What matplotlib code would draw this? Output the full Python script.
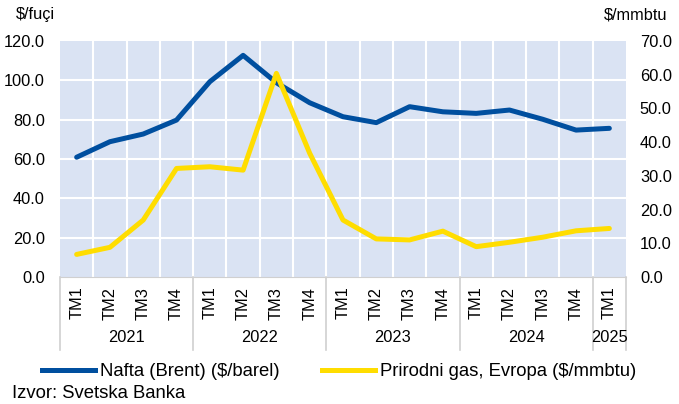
import matplotlib
matplotlib.use('Agg')
import matplotlib.pyplot as plt
from matplotlib.transforms import blended_transform_factory
from matplotlib.lines import Line2D

plt.rcParams['font.family'] = ['Liberation Sans', 'DejaVu Sans']

# Data
quarters = ['TM1', 'TM2', 'TM3', 'TM4'] * 4 + ['TM1']
years = ['2021', '2022', '2023', '2024', '2025']
year_counts = [4, 4, 4, 4, 1]
brent = [60.9, 68.8, 72.7, 79.8, 99.3, 112.7, 98.8, 88.6, 81.5,
         78.5, 86.6, 84.0, 83.2, 84.9, 80.2, 74.7, 75.6]
gas = [6.7, 8.8, 16.9, 32.2, 32.7, 31.7, 60.4, 36.7, 16.9,
       11.3, 11.0, 13.6, 9.0, 10.3, 11.8, 13.7, 14.4]

blue = '#004F9F'
yellow = '#FFDD00'
bg = '#DAE3F3'
fs = 11.8
fs_leg = 13.3

fig = plt.figure(figsize=(6.79, 4.04), dpi=100)
ax = fig.add_axes([60 / 679, 1 - 277 / 404, 566 / 679, 236 / 404])
ax2 = ax.twinx()

n = len(brent)
x = [i + 0.5 for i in range(n)]

ax.set_facecolor(bg)
ax.set_xlim(0, n)
ax.set_ylim(0, 120)
ax.set_yticks(range(0, 121, 20))
ax.set_yticklabels([f'{v:.1f}' for v in range(0, 121, 20)])
ax.set_xticks(x)
ax.set_xticklabels(quarters, rotation=90)
for v in range(1, n):
    ax.axvline(v, color='white', lw=1.5, zorder=1)
for v in range(20, 120, 20):
    ax.axhline(v, color='white', lw=1.5, zorder=1)

ax.plot(x, brent, color=blue, lw=3.6, solid_capstyle='round', zorder=3)
ax2.plot(x, gas, color=yellow, lw=3.6, solid_capstyle='round', zorder=3)

ax2.set_ylim(0, 70)
ax2.set_yticks(range(0, 71, 10))
ax2.set_yticklabels([f'{v:.1f}' for v in range(0, 71, 10)])

for a in (ax, ax2):
    for s in a.spines.values():
        s.set_visible(False)
    a.tick_params(length=0, labelsize=fs, colors='black')
ax.tick_params(axis='y', pad=11)
ax2.tick_params(axis='y', pad=10)
ax.tick_params(axis='x', pad=7)
ax.spines['bottom'].set_visible(True)
ax.spines['bottom'].set_color('#D0D0D0')

# year labels and separators
tr = blended_transform_factory(ax.transData, ax.transAxes)
sep_y = -73 / 236
start = 0
for yr, cnt in zip(years, year_counts):
    ax.text(start + cnt / 2, -61 / 236, yr, transform=tr, ha='center', va='center', fontsize=fs)
    ax.add_line(Line2D([start, start], [0, sep_y], transform=tr, color='#D0D0D0', lw=1.2, clip_on=False))
    start += cnt
ax.add_line(Line2D([start, start], [0, sep_y], transform=tr, color='#D0D0D0', lw=1.2, clip_on=False))

fig.text(16 / 679, 1 - 14 / 404, '$/fuçi', ha='left', va='center', fontsize=fs)
fig.text(667 / 679, 1 - 15 / 404, '$/mmbtu', ha='right', va='center', fontsize=fs)

handles = [Line2D([], [], color=blue, lw=3.6), Line2D([], [], color=yellow, lw=3.6)]
fig.legend(handles, ['Nafta (Brent) ($/barel)', 'Prirodni gas, Evropa ($/mmbtu)'],
           loc='center left', bbox_to_anchor=(42 / 679, 1 - 372 / 404), ncol=2, frameon=False,
           fontsize=fs_leg, handlelength=2.87, columnspacing=2.27, handletextpad=0.27, borderaxespad=0,
           borderpad=0)

fig.text(12 / 679, 1 - 394 / 404, 'Izvor: Svetska Banka', ha='left', va='center', fontsize=fs_leg)

fig.savefig('out.png', dpi=100)
